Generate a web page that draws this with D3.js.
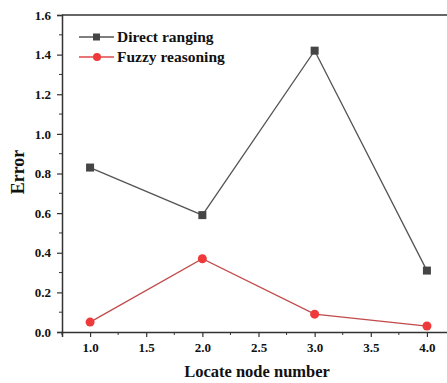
<!DOCTYPE html>
<html>
<head>
<meta charset="utf-8">
<script src="https://cdn.jsdelivr.net/npm/d3@7"></script>
<style>
  body { margin: 0; background: #fff; }
  svg { display: block; font-family: "Liberation Serif", "Times New Roman", serif; }
</style>
</head>
<body>
<svg id="chart" width="447" height="383"></svg>
<script>
const nodes = [1.0, 2.0, 3.0, 4.0];
const directRanging = [0.83, 0.59, 1.42, 0.31];
const fuzzyReasoning = [0.05, 0.37, 0.09, 0.03];
const xTicks = [1.0, 1.5, 2.0, 2.5, 3.0, 3.5, 4.0];
const yTicks = [0.0, 0.2, 0.4, 0.6, 0.8, 1.0, 1.2, 1.4, 1.6];

const width = 447;
const height = 383;
const margin = { top: 15, right: -8, bottom: 51, left: 62 };

const svg = d3.select("#chart");

const scaleX = d3.scaleLinear().domain([0.75, 4.25]).range([margin.left, width - margin.right]);
const scaleY = d3.scaleLinear().domain([0, 1.6]).range([height - margin.bottom, margin.top]);

const axisColor = "#333";

// frame: top border
svg.append("line")
    .attr("x1", margin.left).attr("x2", width)
    .attr("y1", margin.top).attr("y2", margin.top)
    .attr("stroke", axisColor).attr("stroke-width", 1.5);

// minor ticks
const xMinor = d3.range(0.75, 4.26, 0.25).filter((v) => !xTicks.some((t) => Math.abs(t - v) < 1e-6));
const yMinor = d3.range(0.1, 1.6, 0.2);

const xAxis = d3.axisBottom(scaleX).tickValues(xTicks).tickFormat(d3.format(".1f")).tickSizeOuter(0).tickSize(5).tickPadding(6);
const yAxis = d3.axisLeft(scaleY).tickValues(yTicks).tickFormat(d3.format(".1f")).tickSizeOuter(0).tickSize(5).tickPadding(6);

const gx = svg.append("g")
    .attr("transform", `translate(0, ${scaleY(0)})`)
    .call(xAxis);
const gy = svg.append("g")
    .attr("transform", `translate(${margin.left}, 0)`)
    .call(yAxis);

[gx, gy].forEach((g) => {
    g.attr("font-family", null);
    g.select(".domain").attr("stroke", axisColor).attr("stroke-width", 1.5);
    g.selectAll(".tick line").attr("stroke", axisColor).attr("stroke-width", 1.2);
    g.selectAll(".tick text")
        .attr("fill", "#111")
        .style("font-family", "'Liberation Serif', serif")
        .style("font-weight", "bold")
        .style("font-size", "13px");
});

svg.append("g").selectAll("line").data(xMinor).join("line")
    .attr("x1", (d) => scaleX(d)).attr("x2", (d) => scaleX(d))
    .attr("y1", scaleY(0)).attr("y2", scaleY(0) + 3)
    .attr("stroke", axisColor).attr("stroke-width", 1);

svg.append("g").selectAll("line").data(yMinor).join("line")
    .attr("x1", margin.left - 3).attr("x2", margin.left)
    .attr("y1", (d) => scaleY(d)).attr("y2", (d) => scaleY(d))
    .attr("stroke", axisColor).attr("stroke-width", 1);

// axis titles
svg.append("text")
    .attr("x", 257)
    .attr("y", 377)
    .attr("text-anchor", "middle")
    .style("font-weight", "bold")
    .style("font-size", "16.5px")
    .attr("fill", "#111")
    .text("Locate node number");

svg.append("text")
    .attr("transform", `translate(24, 172) rotate(-90)`)
    .attr("text-anchor", "middle")
    .style("font-weight", "bold")
    .style("font-size", "18px")
    .attr("fill", "#111")
    .text("Error");

const series = [
    { name: "Direct ranging", values: directRanging, line: "#555", marker: "#454545", shape: "square" },
    { name: "Fuzzy reasoning", values: fuzzyReasoning, line: "#c24a4a", marker: "#ee3a3a", shape: "circle" }
];

const lineGenerator = d3.line()
    .x((d) => scaleX(d[0]))
    .y((d) => scaleY(d[1]));

series.forEach((s) => {
    const pts = nodes.map((n, i) => [n, s.values[i]]);
    svg.append("path")
        .datum(pts)
        .attr("fill", "none")
        .attr("stroke", s.line)
        .attr("stroke-width", 1.3)
        .attr("d", lineGenerator);

    drawMarkers(svg.append("g"), pts, s);
});

function drawMarkers(g, pts, s) {
    if (s.shape === "square") {
        g.selectAll("rect").data(pts).join("rect")
            .attr("x", (d) => scaleX(d[0]) - 4)
            .attr("y", (d) => scaleY(d[1]) - 4)
            .attr("width", 8).attr("height", 8)
            .attr("fill", s.marker);
    } else {
        g.selectAll("circle").data(pts).join("circle")
            .attr("cx", (d) => scaleX(d[0]))
            .attr("cy", (d) => scaleY(d[1]))
            .attr("r", 4.5)
            .attr("fill", s.marker);
    }
}

// legend
const legend = svg.append("g").attr("transform", "translate(79, 37)");
series.forEach((s, i) => {
    const row = legend.append("g").attr("transform", `translate(0, ${i * 20})`);
    row.append("line")
        .attr("x1", 0).attr("x2", 35).attr("y1", 0).attr("y2", 0)
        .attr("stroke", i === 0 ? "#555" : "#e04848").attr("stroke-width", 1.3);
    if (s.shape === "square") {
        row.append("rect").attr("x", 14).attr("y", -3.5).attr("width", 7).attr("height", 7).attr("fill", s.marker);
    } else {
        row.append("circle").attr("cx", 18).attr("cy", 0).attr("r", 4).attr("fill", s.marker);
    }
    row.append("text")
        .attr("x", 38).attr("y", 5)
        .style("font-weight", "bold")
        .style("font-size", "15.5px")
        .attr("fill", "#111")
        .text(s.name);
});
</script>
</body>
</html>
